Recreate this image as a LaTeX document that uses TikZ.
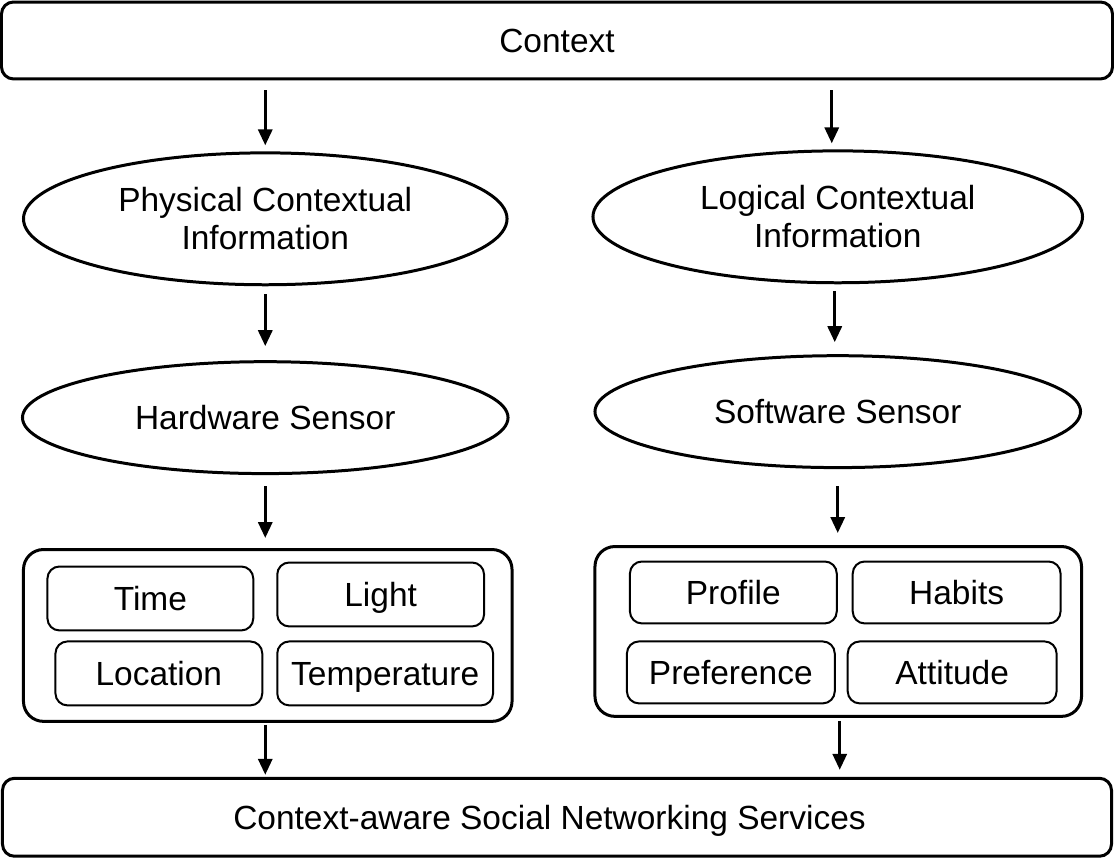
\documentclass[tikz,border=0pt]{standalone}
\usepackage{fontspec}
\setmainfont{Liberation Sans}
\usetikzlibrary{arrows.meta,shapes.geometric}

\begin{document}
\begin{tikzpicture}[x=0.5pt,y=-0.5pt,
  every node/.style={font=\fontsize{16.75}{19}\selectfont, inner sep=0pt, align=center},
  oneline/.style={text height=14pt, text depth=2pt},
  widebox/.style={draw, line width=1.5pt, rounded corners=6pt},
  groupbox/.style={draw, line width=1.5pt, rounded corners=10pt},
  itembox/.style={draw, line width=1pt, rounded corners=6pt, oneline},
  oval/.style={draw, ellipse, line width=1.5pt},
  arr/.style={line width=1.6pt, -{Triangle[width=7pt,length=8pt]}}
]
\fill[white] (0,0) rectangle (1114,859);

% top and bottom bars
\node[widebox, oneline, minimum width=556pt, minimum height=38.5pt] (ctx) at (557,40.5) {Context};
\node[widebox, minimum width=555pt, minimum height=39pt] (csns) at (557,818) {};
\node[oneline] (csnstext) at (549.5,818) {Context-aware Social Networking Services};

% physical branch
\node[oval, minimum width=242pt, minimum height=66pt] (phys) at (265,219) {Physical Contextual\\Information};
\node[oval, oneline, minimum width=243pt, minimum height=56pt] (hw) at (265,418) {Hardware Sensor};
\node[groupbox, minimum width=244.5pt, minimum height=86pt] (pgrp) at (267.5,636) {};
\node[itembox, minimum width=103pt, minimum height=32pt] (time) at (150,599) {Time};
\node[itembox, minimum width=103.5pt, minimum height=32pt] (light) at (380.5,595) {Light};
\node[itembox, minimum width=103.5pt, minimum height=32pt] (loc) at (158.5,674) {Location};
\node[itembox, minimum width=108pt, minimum height=32pt] (temp) at (385,674) {Temperature};

% logical branch
\node[oval, minimum width=245pt, minimum height=66pt] (logi) at (838,217) {Logical Contextual\\Information};
\node[oval, oneline, minimum width=243pt, minimum height=56pt] (sw) at (838,412) {Software Sensor};
\node[groupbox, minimum width=243.5pt, minimum height=85pt] (lgrp) at (838.5,632) {};
\node[itembox, minimum width=103.5pt, minimum height=31pt] (prof) at (733.5,593) {Profile};
\node[itembox, minimum width=104pt, minimum height=31pt] (hab) at (957,593) {Habits};
\node[itembox, minimum width=104pt, minimum height=31pt] (pref) at (731,673) {Preference};
\node[itembox, minimum width=104.5pt, minimum height=31pt] (att) at (952.5,673) {Attitude};

% connectors, left column
\draw[arr, shorten <=5pt, shorten >=3pt] (ctx.south -| phys.north) -- (phys.north);
\draw[arr, shorten <=4pt, shorten >=7pt] (phys.south) -- (hw.north);
\draw[arr, shorten <=5.5pt, shorten >=5pt] (hw.south) -- (hw.south |- pgrp.north);
\draw[arr, shorten <=1pt, shorten >=1pt] (pgrp.south -| hw.south) -- (csns.north -| hw.south);

% connectors, right column
\draw[arr, shorten <=5pt, shorten >=3pt] ([xshift=-3pt]ctx.south -| logi.north) -- ([xshift=-3pt]logi.north);
\draw[arr, shorten <=3.5pt, shorten >=6pt] ([xshift=-1.5pt]logi.south) -- ([xshift=-1.5pt]sw.north);
\draw[arr, shorten <=8.5pt, shorten >=6pt] (sw.south) -- (sw.south |- lgrp.north);
\draw[arr, shorten <=1.5pt, shorten >=3.5pt] ([xshift=1pt]lgrp.south -| sw.south) -- ([xshift=1pt]csns.north -| sw.south);
\end{tikzpicture}
\end{document}
